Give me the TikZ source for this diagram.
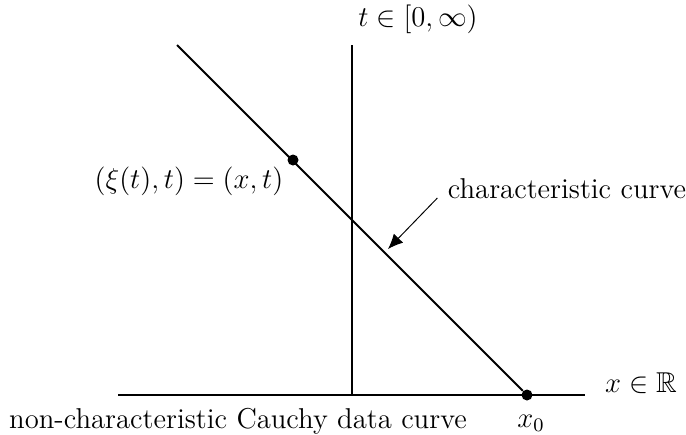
\documentclass[tikz,border=0pt]{standalone}
\usepackage{amsmath}
\usepackage{amssymb}
\usepackage{tikz}
\usetikzlibrary{arrows.meta, positioning, calc}

\begin{document}
\begin{tikzpicture}[
    x=0.01469cm, y=-0.01469cm,
    axis/.style={line width=0.8pt},
    dot/.style={circle, fill=black, inner sep=0pt, minimum size=4.6pt},
    label/.style={inner sep=0pt, font=\large},
    arrow/.style={-{Latex[length=2.2mm, width=1.9mm]}, line width=0.4pt},
]
    \useasboundingbox (0,0) rectangle (686,435);

    % axes
    \coordinate (xl) at (118,395);
    \coordinate (xr) at (585,395);
    \coordinate (tb) at (352,395);
    \coordinate (tt) at (352,45);
    \draw[axis] (xl) -- (xr);
    \draw[axis] (tb) -- (tt);

    % characteristic through x_0
    \coordinate (top) at (177,45);
    \node[dot] (x0) at (527,395) {};
    \node[dot] (pt) at (293,160) {};
    \draw[axis] (top) -- (x0);

    \node[label] (tlab) at (418,19) {$t \in [0,\infty)$};
    \node[label] (xlab) at (641,383) {$x \in \mathbb{R}$};
    \node[label] (ptlab) at (189,181) {$(\xi(t),t) = (x,t)$};
    \node[label] (cclab) at (567,189) {characteristic curve};
    \node[label] (cauchy) at (238,421) {non-characteristic Cauchy data curve};
    \node[label] (x0lab) at (531,423) {$x_0$};

    % pointer
    \coordinate (tip) at (388,249);
    \draw[arrow] ($(cclab.west)+(-10,9)$) -- (tip);
\end{tikzpicture}
\end{document}
